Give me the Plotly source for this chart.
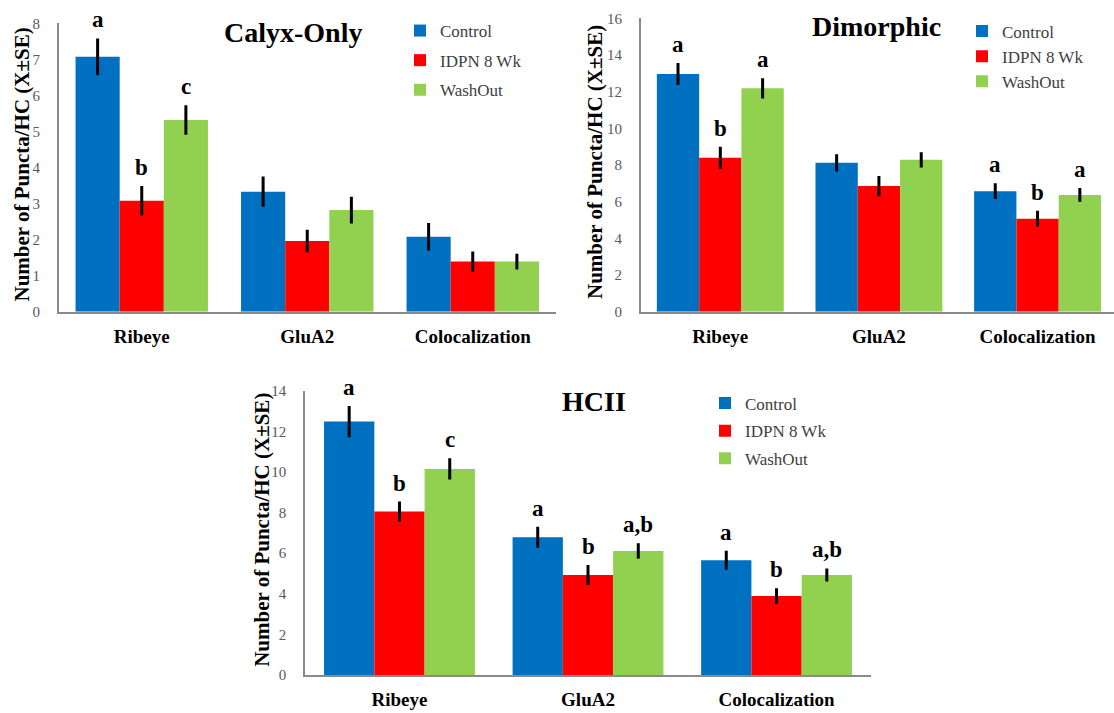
import plotly.graph_objects as go

W, H = 1114, 713

categories = ["Ribeye", "GluA2", "Colocalization"]
series_names = ["Control", "IDPN 8 Wk", "WashOut"]
series_colors = ["#0070C0", "#FF0000", "#92D050"]

# Calyx-Only
calyx_control = [7.07, 3.33, 2.08]
calyx_control_se = [0.51, 0.42, 0.38]
calyx_idpn = [3.08, 1.96, 1.39]
calyx_idpn_se = [0.41, 0.31, 0.28]
calyx_washout = [5.32, 2.82, 1.39]
calyx_washout_se = [0.41, 0.37, 0.22]
calyx_letters = [["a", "", ""], ["b", "", ""], ["c", "", ""]]

# Dimorphic
dimo_control = [12.96, 8.12, 6.57]
dimo_control_se = [0.60, 0.47, 0.43]
dimo_idpn = [8.39, 6.85, 5.07]
dimo_idpn_se = [0.60, 0.55, 0.43]
dimo_washout = [12.18, 8.28, 6.37]
dimo_washout_se = [0.55, 0.42, 0.37]
dimo_letters = [["a", "", "a"], ["b", "", "b"], ["a", "", "a"]]

# HCII
hcii_control = [12.48, 6.78, 5.65]
hcii_control_se = [0.77, 0.52, 0.47]
hcii_idpn = [8.05, 4.93, 3.89]
hcii_idpn_se = [0.49, 0.49, 0.38]
hcii_washout = [10.15, 6.11, 4.93]
hcii_washout_se = [0.52, 0.38, 0.32]
hcii_letters = [["a", "a", "a"], ["b", "b", "b"], ["c", "a,b", "a,b"]]

y_title = "Number of Puncta/HC (X±SE)"
FONT = "Liberation Serif, DejaVu Serif, serif"


def px(x):
    return x / W


def py(y):
    return 1 - y / H


panels = [
    dict(title="Calyx-Only", vals=[calyx_control, calyx_idpn, calyx_washout],
         ses=[calyx_control_se, calyx_idpn_se, calyx_washout_se], letters=calyx_letters,
         ymax=8, dtick=1, xax="x", yax="y", legend="legend",
         xdom=[59, 555.5], y0=311.7, ytop=23.3, xrange=[-0.5, 2.5],
         title_xy=(293, 32), ytitle_x=21, legend_xy=(400, 13), gap=4.5),
    dict(title="Dimorphic", vals=[dimo_control, dimo_idpn, dimo_washout],
         ses=[dimo_control_se, dimo_idpn_se, dimo_washout_se], letters=dimo_letters,
         ymax=16, dtick=2, xax="x2", yax="y2", legend="legend2",
         xdom=[641, 1114], y0=311.7, ytop=18.3, xrange=[-0.5, 2.482],
         title_xy=(876, 26), ytitle_x=595, legend_xy=(962, 13.5), gap=0),
    dict(title="HCII", vals=[hcii_control, hcii_idpn, hcii_washout],
         ses=[hcii_control_se, hcii_idpn_se, hcii_washout_se], letters=hcii_letters,
         ymax=14, dtick=2, xax="x3", yax="y3", legend="legend3",
         xdom=[305.2, 870.8], y0=675, ytop=390.7, xrange=[-0.5, 2.5],
         title_xy=(594, 401), ytitle_x=262, legend_xy=(705, 385.5), gap=2.5),
]

fig = go.Figure()
annotations = []
layout = dict()
BARGAP = 0.2

for p in panels:
    for si, (name, color) in enumerate(zip(series_names, series_colors)):
        fig.add_trace(go.Bar(
            x=categories, y=p["vals"][si], name=name,
            marker=dict(color=color, line=dict(width=0)),
            error_y=dict(type="data", array=p["ses"][si], color="black",
                         thickness=3, width=0),
            xaxis=p["xax"], yaxis=p["yax"], legend=p["legend"],
            legendgroup=p["title"] + name, offsetgroup=str(si),
        ))
        for ci, lab in enumerate(p["letters"][si]):
            if lab:
                annotations.append(dict(
                    x=ci + (si - 1) * (1 - BARGAP) / 3,
                    y=p["vals"][si][ci] + p["ses"][si][ci],
                    xref=p["xax"], yref=p["yax"], text="<b>" + lab + "</b>",
                    showarrow=False, yanchor="bottom", yshift=4,
                    font=dict(family=FONT, size=23, color="black")))
    xk = "xaxis" + p["xax"][1:]
    yk = "yaxis" + p["yax"][1:]
    layout[xk] = dict(
        domain=[px(p["xdom"][0]), min(1.0, px(p["xdom"][1]))], anchor=p["yax"],
        range=p["xrange"], type="category", showgrid=False, zeroline=False,
        showline=True, linecolor="#8a8a8a", linewidth=2, ticks="",
        automargin=False, ticklabelstandoff=6,
        tickfont=dict(family=FONT, size=19, color="black", weight="bold"))
    layout[yk] = dict(
        domain=[py(p["y0"]), py(p["ytop"])], anchor=p["xax"],
        range=[0, p["ymax"]], dtick=p["dtick"], showgrid=False, zeroline=False,
        showline=True, linecolor="#8a8a8a", linewidth=2, ticks="",
        automargin=False, ticklabelstandoff=14,
        tickfont=dict(family=FONT, size=15, color="#595959"))
    layout[p["legend"]] = dict(
        x=px(p["legend_xy"][0]), y=py(p["legend_xy"][1]),
        xanchor="left", yanchor="top", bgcolor="rgba(0,0,0,0)",
        font=dict(family=FONT, size=17, color="#404040"),
        tracegroupgap=p["gap"], traceorder="grouped")
    annotations.append(dict(
        x=px(p["title_xy"][0]), y=py(p["title_xy"][1]), xref="paper", yref="paper",
        text="<b>" + p["title"] + "</b>", showarrow=False,
        xanchor="center", yanchor="middle",
        font=dict(family=FONT, size=28, color="black")))
    annotations.append(dict(
        x=px(p["ytitle_x"]), y=py((p["y0"] + p["ytop"]) / 2 - 3),
        xref="paper", yref="paper", text="<b>" + y_title + "</b>",
        showarrow=False, textangle=-90, xanchor="center", yanchor="middle",
        font=dict(family=FONT, size=21, color="black")))

fig.update_layout(
    width=W, height=H, margin=dict(l=0, r=0, t=0, b=0, autoexpand=False),
    paper_bgcolor="white", plot_bgcolor="white",
    barmode="group", bargap=BARGAP, bargroupgap=0,
    annotations=annotations, **layout)

fig.write_html("out.html", config={"displayModeBar": False},
               post_script="document.body.style.margin='0';"
                           "document.body.style.overflow='hidden';")
